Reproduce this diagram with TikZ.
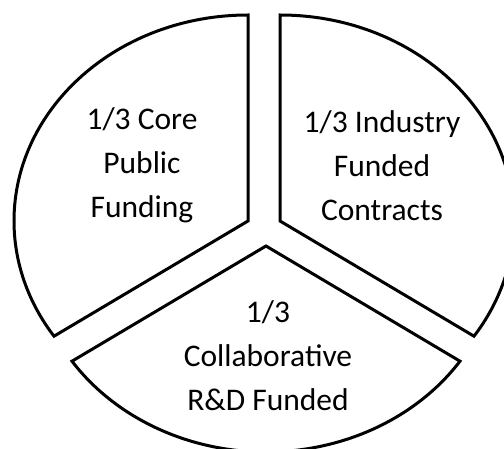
\documentclass[tikz,border=0pt]{standalone}
\usepackage{fontspec}
\setmainfont{Carlito}
\begin{document}
\begin{tikzpicture}[x=1pt,y=1pt]
   \clip (0,0) rectangle (504,448);
   \tikzstyle{wedge}=[line width=3pt, draw=black, line join=miter]
   \tikzstyle{wedgetext}=[align=center, font=\fontsize{31.5}{44}\selectfont]
   \coordinate (core) at (248,227);
   \coordinate (industry) at (280,227);
   \coordinate (collab) at (266,202);
   \foreach \v/\a/\b in {core/90/214,industry/90/-34,collab/214/326} {
       \draw[wedge] (\v) -- ++(\a:234 and 206)
          arc[start angle=\a, end angle=\b, x radius=234, y radius=206] -- cycle;
   }
   \node[wedgetext] (coretext) at (142,283) {1/3 Core\\Public\\Funding};
   \node[wedgetext] (industrytext) at (382,282) {1/3 Industry\\Funded\\Contracts};
   \node[wedgetext] (collabtext) at (268,92) {1/3\\Collaborative\\R\&D Funded};
\end{tikzpicture}
\end{document}
